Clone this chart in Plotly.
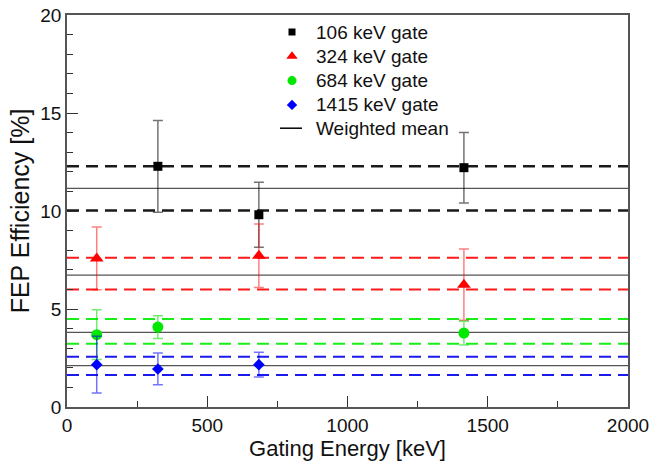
import plotly.graph_objects as go

# ---- data ----
gate_names = ["106 keV gate", "324 keV gate", "684 keV gate", "1415 keV gate"]
mean_label = "Weighted mean"

g106_x = [324, 684, 1415]
g106_y = [12.28, 9.81, 12.21]
g106_err = [2.34, 1.66, 1.80]

g324_x = [106, 684, 1415]
g324_y = [7.58, 7.72, 6.24]
g324_err = [1.60, 1.62, 1.82]

g684_x = [106, 324, 1415]
g684_y = [3.69, 4.08, 3.77]
g684_err = [1.27, 0.58, 0.61]

g1415_x = [106, 324, 684]
g1415_y = [2.16, 1.94, 2.16]
g1415_err = [1.45, 0.81, 0.63]

mean_val = [11.15, 6.73, 3.81, 2.11]
mean_upper = [12.28, 7.62, 4.49, 2.57]
mean_lower = [10.03, 5.99, 3.23, 1.63]

x_range = [0, 2000]
y_range = [0, 20]
x_ticks = [0, 500, 1000, 1500, 2000]
y_ticks = [0, 5, 10, 15, 20]

# ---- styles ----
colors = ["#000000", "#ff0000", "#00e800", "#0000ff"]
dash_colors = ["#1a1a1a", "#ff1a1a", "#1aee1a", "#1a1aee"]
err_colors = ["rgba(0,0,0,0.55)", "rgba(255,0,0,0.5)", "rgba(0,220,0,0.55)", "rgba(0,0,255,0.55)"]
symbols = ["square", "triangle-up", "circle", "diamond"]
sizes = [9, 12, 11, 9]
legend_sizes = [7, 10, 9, 8]
dash_widths = [2.5, 2, 2, 2]

xs = [g106_x, g324_x, g684_x, g1415_x]
ys = [g106_y, g324_y, g684_y, g1415_y]
errs = [g106_err, g324_err, g684_err, g1415_err]

W, H = 653, 462
# plot area in page pixels
L, R, T, B = 67, 628, 15, 407

fig = go.Figure()

# horizontal band lines
for i in range(4):
    for val in (mean_upper[i], mean_lower[i]):
        fig.add_trace(go.Scatter(
            x=x_range, y=[val, val], mode="lines",
            line=dict(color=dash_colors[i], width=dash_widths[i], dash="12px,7px"),
            showlegend=False, hoverinfo="skip"))
    fig.add_trace(go.Scatter(
        x=x_range, y=[mean_val[i], mean_val[i]], mode="lines",
        line=dict(color="#555555", width=1.2),
        showlegend=False, hoverinfo="skip"))

# data points
for i in range(4):
    fig.add_trace(go.Scatter(
        x=xs[i], y=ys[i], mode="markers",
        marker=dict(symbol=symbols[i], size=sizes[i], color=colors[i]),
        error_y=dict(type="data", array=errs[i], visible=True,
                     color=err_colors[i], thickness=1.5, width=5),
        showlegend=False, name=gate_names[i]))

# hand-built legend (overlay axes in page-pixel units)
leg_mx = 292
leg_tx = 314
leg_y0 = 32
leg_dy = 24.3
for i in range(4):
    yy = leg_y0 + i * leg_dy
    fig.add_trace(go.Scatter(
        x=[leg_mx], y=[yy], mode="markers", xaxis="x2", yaxis="y2",
        marker=dict(symbol=symbols[i], size=legend_sizes[i], color=colors[i]),
        showlegend=False, hoverinfo="skip"))
    fig.add_annotation(x=leg_tx, y=yy, xref="x2", yref="y2", text=gate_names[i],
                       showarrow=False, xanchor="left", yanchor="middle",
                       font=dict(size=19, color="#111111"))
yy = leg_y0 + 4 * leg_dy - 1
fig.add_trace(go.Scatter(
    x=[leg_mx - 12, leg_mx + 10], y=[yy, yy], mode="lines", xaxis="x2", yaxis="y2",
    line=dict(color="#000000", width=1.5), showlegend=False, hoverinfo="skip"))
fig.add_annotation(x=leg_tx, y=yy, xref="x2", yref="y2", text=mean_label,
                   showarrow=False, xanchor="left", yanchor="middle",
                   font=dict(size=19, color="#111111"))

axis_common = dict(
    showline=True, mirror=True, linecolor="#555555", linewidth=1.5,
    ticks="inside", ticklen=11, tickwidth=1.2, tickcolor="#333333",
    showgrid=False, zeroline=False, automargin=False,
    ticklabeloverflow="allow",
    tickfont=dict(size=19, color="#111111"),
)

xaxis = dict(
    range=x_range, tickvals=x_ticks,
    minor=dict(ticks="inside", ticklen=6, dtick=250, tickcolor="#333333", tickwidth=1.2),
    title=dict(text="Gating Energy [keV]", font=dict(size=22, color="#111111"), standoff=6),
    **axis_common)
yaxis = dict(
    range=y_range, tickvals=y_ticks,
    minor=dict(ticks="inside", ticklen=6, dtick=1, tickcolor="#333333", tickwidth=1.2),
    title=dict(text="FEP Efficiency [%]", font=dict(size=25, color="#111111"), standoff=4),
    **axis_common)

fig.update_layout(
    width=W, height=H,
    margin=dict(l=L, r=W - R, t=T, b=H - B, autoexpand=False),
    paper_bgcolor="white", plot_bgcolor="white",
    font=dict(family="Liberation Sans, Arial, sans-serif", color="#111111"),
    showlegend=False,
    xaxis=xaxis,
    yaxis=yaxis,
    xaxis2=dict(overlaying="x", range=[L, R], visible=False, fixedrange=True),
    yaxis2=dict(overlaying="y", range=[B, T], visible=False, fixedrange=True),
)

fig.write_html("out.html",
               config={"displayModeBar": False},
               post_script="document.body.style.margin='0px';document.body.style.overflow='hidden';")
